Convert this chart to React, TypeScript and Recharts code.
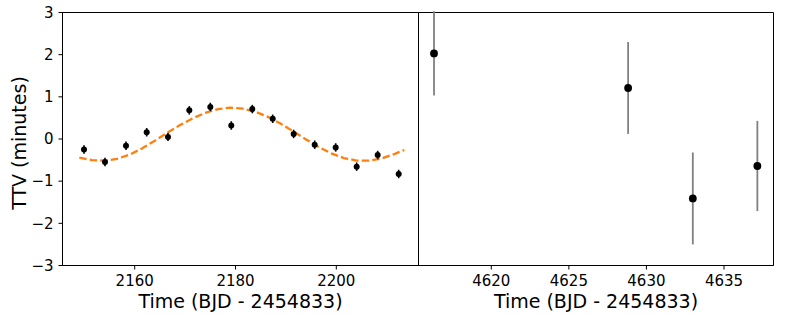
import React from 'react';
import {
  ComposedChart,
  Scatter,
  Line,
  XAxis,
  YAxis,
  ErrorBar,
  ReferenceArea,
} from 'recharts';

// Left panel: observed TTVs
const leftTimes = [2149.94, 2154.1, 2158.27, 2162.38, 2166.6, 2170.83, 2175.0, 2179.16, 2183.33, 2187.38, 2191.54, 2195.71, 2199.88, 2204.04, 2208.21, 2212.38];
const leftTTV = [-0.25, -0.545, -0.16, 0.16, 0.05, 0.68, 0.76, 0.32, 0.71, 0.48, 0.12, -0.135, -0.2, -0.656, -0.38, -0.83];
const leftErr = [0.1, 0.1, 0.1, 0.1, 0.1, 0.1, 0.1, 0.1, 0.1, 0.1, 0.1, 0.1, 0.1, 0.1, 0.1, 0.1];

// Left panel: model curve
const modelTimes = [2149, 2151.5, 2154, 2156.5, 2159, 2161.5, 2164, 2166.5, 2169, 2171.5, 2174, 2176.5, 2179, 2181.5, 2184, 2186.5, 2189, 2191.5, 2194, 2196.5, 2199, 2201.5, 2204, 2206.5, 2209, 2211.5, 2213.5];
const modelTTV = [-0.44, -0.5, -0.515, -0.47, -0.37, -0.22, -0.04, 0.15, 0.33, 0.49, 0.62, 0.71, 0.745, 0.72, 0.645, 0.52, 0.36, 0.178, -0.011, -0.19, -0.341, -0.451, -0.511, -0.514, -0.461, -0.357, -0.26];

// Right panel
const rightTimes = [4616.31, 4628.82, 4632.99, 4637.15];
const rightTTV = [2.03, 1.21, -1.41, -0.64];
const rightErr = [1.0, 1.09, 1.09, 1.07];

const yTicks = [-3, -2, -1, 0, 1, 2, 3];
const leftXTicks = [2160, 2180, 2200];
const rightXTicks = [4620, 4625, 4630, 4635];
const xLabelText = 'Time (BJD - 2454833)';
const yLabelText = 'TTV (minutes)';

const leftDomain: [number, number] = [2145.67, 2216.31];
const rightDomain: [number, number] = [4615.31, 4638.19];

const leftData = leftTimes.map((x, i) => ({ x, y: leftTTV[i], err: leftErr[i] }));
const modelData = modelTimes.map((x, i) => ({ x, y: modelTTV[i] }));
const rightData = rightTimes.map((x, i) => ({ x, y: rightTTV[i], err: rightErr[i] }));

const FONT = 'DejaVu Sans';
const tickStyle = { fontSize: 15, fontFamily: FONT, fill: '#000' };
const fmt = (v: number) => String(v).replace('-', '\u2212');

const XLabel = (props: any) => {
  const vb = props.viewBox || {};
  const cx = vb.x + vb.width / 2;
  return (
    <text x={cx} y={308.3} textAnchor="middle" fontSize={19} fontFamily={FONT} fill="#000">
      {xLabelText}
    </text>
  );
};

const YLabel = () => (
  <text
    x={26}
    y={143}
    transform="rotate(-90, 26, 143)"
    textAnchor="middle"
    fontSize={19}
    fontFamily={FONT}
    fill="#000"
  >
    {yLabelText}
  </text>
);

const smallDot = (props: any) => <circle cx={props.cx} cy={props.cy} r={3} fill="#000" />;
const bigDot = (props: any) => <circle cx={props.cx} cy={props.cy} r={3.9} fill="#000" />;

export default function App() {
  return (
    <div style={{ position: 'fixed', left: 0, top: 0, width: 789, height: 316, background: '#fff' }}>
      <div style={{ position: 'absolute', left: 0, top: 0 }}>
        <ComposedChart width={419} height={316} margin={{ top: 12.5, right: 0.5, left: 0, bottom: 0 }}>
          <XAxis
            dataKey="x"
            type="number"
            domain={leftDomain}
            ticks={leftXTicks}
            allowDataOverflow
            height={50.5}
            tickSize={4}
            tickMargin={6}
            tick={tickStyle}
            stroke="#000"
            label={<XLabel />}
          />
          <YAxis
            dataKey="y"
            type="number"
            domain={[-3, 3]}
            ticks={yTicks}
            allowDataOverflow
            width={62.5}
            tickSize={4}
            tickMargin={5}
            tick={tickStyle}
            tickFormatter={fmt}
            stroke="#000"
            label={<YLabel />}
          />
          <ReferenceArea x1={leftDomain[0]} x2={leftDomain[1]} y1={-3} y2={3} fill="none" stroke="#000" strokeWidth={1} />
          <Line
            data={modelData}
            dataKey="y"
            type="linear"
            dot={false}
            stroke="#ff7f0e"
            strokeWidth={2.3}
            strokeDasharray="7.4 3.2"
            isAnimationActive={false}
          />
          <Scatter data={leftData} dataKey="y" shape={smallDot} isAnimationActive={false}>
            <ErrorBar dataKey="err" direction="y" width={0} stroke="#000" strokeWidth={1.6} />
          </Scatter>
        </ComposedChart>
      </div>
      <div style={{ position: 'absolute', left: 418, top: 0 }}>
        <ComposedChart width={371} height={316} margin={{ top: 12.5, right: 15.5, left: 0.5, bottom: 0 }}>
          <XAxis
            dataKey="x"
            type="number"
            domain={rightDomain}
            ticks={rightXTicks}
            allowDataOverflow
            height={50.5}
            tickSize={4}
            tickMargin={6}
            tick={tickStyle}
            stroke="#000"
            label={<XLabel />}
          />
          <YAxis dataKey="y" type="number" domain={[-3, 3]} ticks={yTicks} allowDataOverflow hide />
          <ReferenceArea x1={rightDomain[0]} x2={rightDomain[1]} y1={-3} y2={3} fill="none" stroke="#000" strokeWidth={1} />
          <Scatter data={rightData} dataKey="y" shape={bigDot} isAnimationActive={false}>
            <ErrorBar dataKey="err" direction="y" width={0} stroke="#808080" strokeWidth={1.8} />
          </Scatter>
        </ComposedChart>
      </div>
    </div>
  );
}
